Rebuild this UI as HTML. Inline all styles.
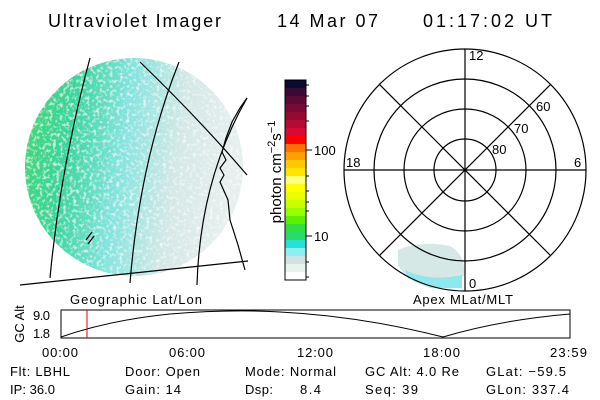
<!DOCTYPE html>
<html><head><style>
html,body{margin:0;padding:0;background:#fff;}
svg{display:block;font-family:"Liberation Sans",sans-serif;}
</style></head><body>
<svg width="600" height="400" viewBox="0 0 600 400" xmlns="http://www.w3.org/2000/svg">
<defs>
<linearGradient id="g" x1="0" y1="0" x2="1" y2="0.15">
<stop offset="0" stop-color="#3ed870"/>
<stop offset="0.25" stop-color="#38d6a0"/>
<stop offset="0.5" stop-color="#86e4e0"/>
<stop offset="0.75" stop-color="#d4e8e6"/>
<stop offset="1" stop-color="#e6efee"/>
</linearGradient>
<filter id="n" x="0" y="0" width="1" height="1">
<feTurbulence type="fractalNoise" baseFrequency="0.3" numOctaves="2" seed="4" result="t"/>
<feColorMatrix in="t" type="matrix" values="0 0 0 0 1  0 0 0 0 1  0 0 0 0 1  0 0 0 2.2 -1.1" result="w"/>
<feComposite in="w" in2="SourceGraphic" operator="in" result="wm"/>
<feBlend in="wm" in2="SourceGraphic" mode="normal"/>
</filter>
<clipPath id="c"><circle cx="134" cy="167" r="109"/></clipPath>
</defs>
<g fill="#000" font-size="18">
<text x="48" y="27" textLength="173">Ultraviolet Imager</text>
<text x="277" y="27" textLength="101">14 Mar 07</text>
<text x="423" y="27" textLength="129">01:17:02 UT</text>
</g>
<g clip-path="url(#c)"><rect x="25" y="58" width="218" height="220" fill="url(#g)" filter="url(#n)"/></g>
<g fill="none" stroke="#000" stroke-width="1.2">
<path d="M90 58 Q60 170 50 278"/>
<path d="M179 62 Q140 160 130 283"/>
<path d="M247 98 Q200 180 197 285"/>
<path d="M20 285 L248 261"/>
<path d="M140 62 Q200 120 247 175"/>
<path d="M247 98 L240 108 L232 122 L226 138 L222 152 L226 160 L220 168 L224 175 L220 182 L228 200 L230 220 L238 245 L245 270"/>
<path d="M86 240 L92 232 M88 244 L94 236"/>
</g>
<g>
<rect x="285" y="80" width="21" height="8" fill="#0a0a32"/>
<rect x="285" y="88" width="21" height="8" fill="#3a0a34"/>
<rect x="285" y="96" width="21" height="8" fill="#5a0a34"/>
<rect x="285" y="104" width="21" height="8" fill="#780a34"/>
<rect x="285" y="112" width="21" height="8" fill="#940a34"/>
<rect x="285" y="120" width="21" height="8" fill="#b40a34"/>
<rect x="285" y="128" width="21" height="8" fill="#d80a34"/>
<rect x="285" y="136" width="21" height="8" fill="#ff0000"/>
<rect x="285" y="144" width="21" height="8" fill="#ff7200"/>
<rect x="285" y="152" width="21" height="8" fill="#ffa000"/>
<rect x="285" y="160" width="21" height="8" fill="#ffc800"/>
<rect x="285" y="168" width="21" height="8" fill="#ffe600"/>
<rect x="285" y="176" width="21" height="8" fill="#ffff80"/>
<rect x="285" y="184" width="21" height="8" fill="#ffff00"/>
<rect x="285" y="192" width="21" height="8" fill="#eaff00"/>
<rect x="285" y="200" width="21" height="8" fill="#c8ff00"/>
<rect x="285" y="208" width="21" height="8" fill="#96ff00"/>
<rect x="285" y="216" width="21" height="8" fill="#5af000"/>
<rect x="285" y="224" width="21" height="8" fill="#30e040"/>
<rect x="285" y="232" width="21" height="8" fill="#28dc6c"/>
<rect x="285" y="240" width="21" height="8" fill="#28e0d8"/>
<rect x="285" y="248" width="21" height="8" fill="#90eef0"/>
<rect x="285" y="256" width="21" height="8" fill="#d0e2e2"/>
<rect x="285" y="264" width="21" height="8" fill="#e8f2ee"/>
<rect x="285" y="272" width="21" height="8" fill="#ffffff"/>
<rect x="285" y="80" width="21" height="200" fill="none" stroke="#000" stroke-width="1"/>
<g stroke="#000"><line x1="306" y1="150" x2="312" y2="150"/><line x1="306" y1="236" x2="312" y2="236"/>
<line x1="306" y1="85" x2="309" y2="85"/><line x1="306" y1="96" x2="309" y2="96"/><line x1="306" y1="106" x2="309" y2="106"/><line x1="306" y1="121" x2="309" y2="121"/><line x1="306" y1="176" x2="309" y2="176"/><line x1="306" y1="191" x2="309" y2="191"/><line x1="306" y1="202" x2="309" y2="202"/><line x1="306" y1="211" x2="309" y2="211"/><line x1="306" y1="262" x2="309" y2="262"/><line x1="306" y1="277" x2="309" y2="277"/></g>
<text x="314" y="155" font-size="13">100</text>
<text x="314" y="241" font-size="13">10</text>
<text transform="translate(281,172) rotate(-90)" text-anchor="middle" font-size="15">photon cm<tspan dy="-6" font-size="11">−2</tspan><tspan dy="6">s</tspan><tspan dy="-6" font-size="11">−1</tspan></text>
</g>
<path d="M398 250 Q420 240 450 246 Q466 255 464 275 Q455 290 430 288 Q405 280 398 265 Z" fill="#d6e8e6"/>
<path d="M405 270 Q430 282 462 275 L462 288 Q430 290 408 278Z" fill="#8ee8ee"/>
<g fill="none" stroke="#000" stroke-width="1.2">
<circle cx="465" cy="170" r="31"/><circle cx="465" cy="170" r="61"/><circle cx="465" cy="170" r="91"/><circle cx="465" cy="170" r="121"/>
<line x1="344" y1="170" x2="586" y2="170"/><line x1="465" y1="49" x2="465" y2="291"/>
<line x1="379.4" y1="84.4" x2="550.6" y2="255.6"/><line x1="379.4" y1="255.6" x2="550.6" y2="84.4"/>
</g>
<g font-size="13" fill="#000">
<text x="469" y="60">12</text><text x="346" y="167">18</text><text x="574" y="167">6</text><text x="469" y="288">0</text>
<text x="492" y="154">80</text><text x="514" y="133">70</text><text x="536" y="111">60</text>
</g>
<g font-size="13" fill="#000">
<text x="70" y="304" textLength="132">Geographic Lat/Lon</text>
<text x="413" y="304" textLength="100">Apex MLat/MLT</text>
<text x="33" y="320" textLength="17">9.0</text><text x="33" y="338" textLength="17">1.8</text>
<text transform="translate(24,324) rotate(-90)" text-anchor="middle">GC Alt</text>
<text x="42" y="357" textLength="36">00:00</text><text x="169" y="357" textLength="36">06:00</text><text x="297" y="357" textLength="36">12:00</text><text x="423" y="357" textLength="37">18:00</text><text x="550" y="357" textLength="37">23:59</text>
<text x="10" y="376" textLength="60">Flt: LBHL</text><text x="125" y="376" textLength="75">Door: Open</text><text x="245" y="376" textLength="91">Mode: Normal</text><text x="365" y="376" textLength="94">GC Alt: 4.0 Re</text><text x="486" y="376" textLength="80">GLat: −59.5</text>
<text x="10" y="394" textLength="45">IP: 36.0</text><text x="125" y="394" textLength="56">Gain: 14</text><text x="245" y="394" textLength="28">Dsp:</text><text x="300" y="394" textLength="21">8.4</text><text x="365" y="394" textLength="53">Seq: 39</text><text x="486" y="394" textLength="83">GLon: 337.4</text>
</g>
<rect x="61" y="310" width="509" height="28" fill="none" stroke="#000" stroke-width="1"/>
<path d="M61 337 Q110 320 170 314 Q230 309 280 312 Q360 316 443 337 Q500 320 570 314" fill="none" stroke="#000" stroke-width="1"/>
<line x1="87" y1="310" x2="87" y2="338" stroke="#e00" stroke-width="1"/>
</svg>
</body></html>
